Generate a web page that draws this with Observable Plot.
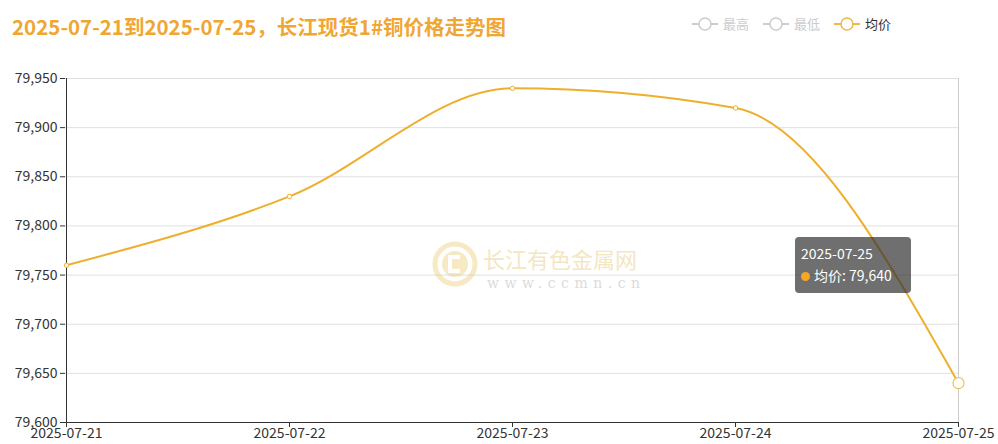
<!DOCTYPE html>
<html><head><meta charset="utf-8">
<script src="https://cdn.jsdelivr.net/npm/d3@7"></script>
<script src="https://cdn.jsdelivr.net/npm/@observablehq/plot@0.6"></script>
<style>
body{margin:0;background:#fff;font-family:"Noto Sans CJK SC","Noto Sans",sans-serif;}
#wrap{position:relative;width:998px;height:444px;overflow:hidden;}
#title{position:absolute;left:12px;top:11px;font-size:20.5px;font-weight:bold;color:#f0a633;letter-spacing:0;white-space:nowrap;}
#legend{position:absolute;left:0;top:14px;width:998px;height:20px;font-size:13px;}
.li{position:absolute;display:flex;align-items:center;gap:5px;color:#ccc;}
#chart{position:absolute;left:0;top:50px;}
#tip{position:absolute;left:795px;top:237px;width:116px;height:56px;background:rgba(50,50,50,0.7);border-radius:4px;color:#fff;font-size:14px;box-sizing:border-box;padding:5px 0 0 6px;line-height:22px;}
#tip .dot{display:inline-block;width:9px;height:9px;border-radius:50%;background:#f5a623;margin-right:4px;}
#wm{position:absolute;left:432px;top:240px;opacity:0.35;pointer-events:none;}
</style></head>
<body><div id="wrap">
<div id="title"></div>
<div id="legend"></div>
<div id="chart"></div>
<div id="wm">
<svg width="220" height="55">
<circle cx="23" cy="24" r="20" fill="none" stroke="#e8c25a" stroke-width="5"/>
<circle cx="23" cy="24" r="13" fill="#e8c25a"/>
<path d="M28 17 H18 V31 H28" fill="none" stroke="#fff" stroke-width="4"/>
<text x="51" y="28" font-size="22" fill="#e0b850" font-family="Noto Sans CJK SC">长江有色金属网</text>
<text x="55" y="48" font-size="14" fill="#999" letter-spacing="5.5" font-family="DejaVu Serif">www.ccmn.cn</text>
</svg></div>
<div id="tip"></div>
</div>
<script>
const dates = ["2025-07-21","2025-07-22","2025-07-23","2025-07-24","2025-07-25"];
const avgPrice = [79760, 79830, 79940, 79920, 79640];
const yTicks = [79600, 79650, 79700, 79750, 79800, 79850, 79900, 79950];
const legendNames = ["最高","最低","均价"];
const titleText = "2025-07-21到2025-07-25，长江现货1#铜价格走势图";
const hovered = 4;

const data = dates.map((d,i)=>({date:d, price:avgPrice[i]}));
const lineColor = "#eeaf2e";

document.getElementById("title").textContent = titleText;
const lg = document.getElementById("legend");
const legendLeft = [692, 763, 834];
legendNames.forEach((n,i)=>{
  const on = i===2;
  const c = on ? "#eeb84a" : "#ccc";
  const el = document.createElement("div"); el.className="li";
  el.style.left = legendLeft[i] + "px";
  el.innerHTML = `<svg width="26" height="16"><line x1="0" y1="8" x2="26" y2="8" stroke="${c}" stroke-width="2"/><circle cx="13" cy="8" r="6" fill="#fff" stroke="${c}" stroke-width="1.5"/></svg><span style="color:${on?'#333':'#ccc'}">${n}</span>`;
  lg.appendChild(el);
});
const fmt = d3.format(",");
document.getElementById("tip").innerHTML = `<div>${dates[hovered]}</div><div><span class="dot"></span>${legendNames[2]}: ${fmt(avgPrice[hovered])}</div>`;

const chart = Plot.plot({
  width: 998, height: 394,
  marginLeft: 65, marginRight: 40, marginTop: 28, marginBottom: 22,
  style: {fontFamily: "'Noto Sans CJK SC','Noto Sans',sans-serif", fontSize: "14px", color: "#333", background: "transparent"},
  x: {type: "point", domain: dates, padding: 0, label: null},
  y: {domain: [79600, 79950], label: null},
  marks: [
    Plot.gridY(yTicks, {stroke: "#e0e0e0", strokeOpacity: 1}),
    Plot.ruleX([dates[hovered]], {stroke: "#ccc", strokeWidth: 1}),
    Plot.axisY({ticks: yTicks, tickFormat: fmt, tickSize: 5, tickPadding: 3, stroke: "#333", fill: "#333", fontSize: 14}),
    Plot.ruleX([dates[0]], {stroke: "#333"}),
    Plot.ruleY([79600], {stroke: "#333"}),
    Plot.axisX({ticks: dates, tickSize: 5, tickPadding: 1, stroke: "#333", fill: "#333", fontSize: 14}),
    Plot.lineY(data, {x: "date", y: "price", stroke: lineColor, strokeWidth: 2, curve: "monotone-x"}),
    Plot.dot(data.filter((d,i)=>i!==hovered), {x: "date", y: "price", r: 2.2, fill: "#fff", stroke: lineColor, strokeWidth: 1}),
    Plot.dot([data[hovered]], {x: "date", y: "price", r: 5.5, fill: "#fff", stroke: "#f0c060", strokeWidth: 1.2})
  ]
});
document.getElementById("chart").appendChild(chart);
</script>
</body></html>
